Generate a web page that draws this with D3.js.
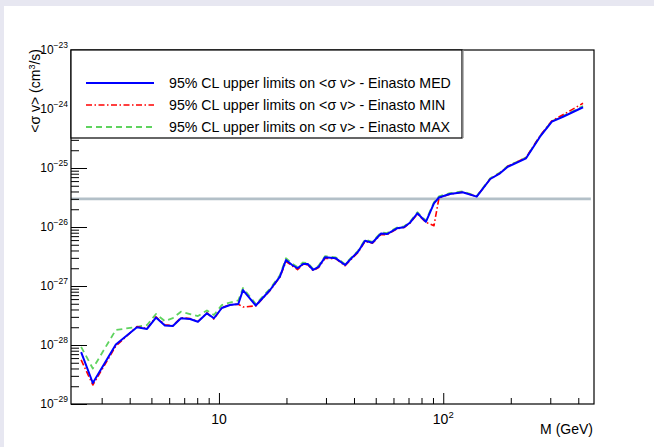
<!DOCTYPE html>
<html><head><meta charset="utf-8">
<script src="https://cdn.jsdelivr.net/npm/d3@7"></script>
<style>html,body{margin:0;padding:0;background:#fff;} svg{display:block;font-family:"Liberation Sans",Arial,sans-serif;}</style>
</head><body>
<svg id="c" width="654" height="447"></svg>
<script>
// ---------- data ----------
const masses = [2.43, 2.74, 3.47, 4.31, 4.78, 5.24, 5.74, 6.23, 6.77, 7.43, 8.06, 8.84, 9.50, 10.3, 11.2, 12.2, 12.8, 14.6, 16.9, 18.7,
  19.9, 21.2, 22.4, 23.7, 24.9, 26.3, 27.8, 29.7, 33.2, 36.5, 39.6, 41.7, 44.8, 48.3, 52.8, 56.1, 62.2, 66.8, 71.0, 76.7,
  83.7, 90.9, 95.7, 107, 122, 141, 162, 179, 194, 234, 270, 305, 342, 420];
const einastoMED = [7.6e-29, 2.27e-29, 1.02e-28, 2.0e-28, 1.87e-28, 2.92e-28, 2.14e-28, 2.10e-28, 2.84e-28, 2.76e-28, 2.48e-28, 3.44e-28, 2.84e-28, 4.24e-28, 4.76e-28, 4.95e-28, 8.55e-28, 4.67e-28, 8.55e-28, 1.44e-27,
  2.76e-27, 2.27e-27, 2.0e-27, 2.36e-27, 2.36e-27, 1.87e-27, 2.10e-27, 3.06e-27, 2.94e-27, 2.27e-27, 3.14e-27, 3.81e-27, 5.86e-27, 5.42e-27, 7.76e-27, 7.6e-27, 9.5e-27, 9.9e-27, 1.18e-26, 1.71e-26,
  1.22e-26, 2.52e-26, 3.16e-26, 3.62e-26, 3.87e-26, 3.27e-26, 6.51e-26, 8.13e-26, 1.05e-25, 1.46e-25, 3.39e-25, 6.09e-25, 7.40e-25, 1.07e-24];
const einastoMIN = [5.6e-29, 2.1e-29, 9.6e-29, 2.05e-28, 1.9e-28, 3.0e-28, 2.2e-28, 2.12e-28, 2.9e-28, 2.8e-28, 2.5e-28, 3.5e-28, 2.75e-28, 4.3e-28, 4.8e-28, 4.9e-28, 4.4e-28, 4.6e-28, 8.4e-28, 1.42e-27,
  2.6e-27, 2.2e-27, 1.9e-27, 2.3e-27, 2.3e-27, 1.82e-27, 2.05e-27, 2.95e-27, 2.9e-27, 2.2e-27, 3.05e-27, 3.7e-27, 5.7e-27, 5.3e-27, 7.5e-27, 7.4e-27, 9.3e-27, 9.8e-27, 1.16e-26, 1.65e-26,
  1.2e-26, 1.05e-26, 3.1e-26, 3.6e-26, 3.9e-26, 3.3e-26, 6.5e-26, 8.2e-26, 1.07e-25, 1.5e-25, 3.5e-25, 6.3e-25, 8.0e-25, 1.25e-24];
const einastoMAX = [9.3e-29, 4.0e-29, 1.8e-28, 2.02e-28, 2.18e-28, 3.35e-28, 2.55e-28, 2.85e-28, 3.67e-28, 3.35e-28, 3.1e-28, 3.85e-28, 3.22e-28, 4.76e-28, 5.25e-28, 5.68e-28, 9.25e-28, 4.95e-28, 9.0e-28, 1.52e-27,
  2.95e-27, 2.4e-27, 2.1e-27, 2.5e-27, 2.45e-27, 1.95e-27, 2.2e-27, 3.2e-27, 3.05e-27, 2.35e-27, 3.25e-27, 3.95e-27, 6.1e-27, 5.6e-27, 8.1e-27, 7.9e-27, 9.8e-27, 1.02e-26, 1.22e-26, 1.78e-26,
  1.28e-26, 2.62e-26, 3.3e-26, 3.75e-26, 4.0e-26, 3.35e-26, 6.7e-26, 8.4e-26, 1.08e-25, 1.5e-25, 3.45e-25, 6.2e-25, 7.6e-25, 1.12e-24];
const seriesNames = ["95% CL upper limits on <σ v> - Einasto MED", "95% CL upper limits on <σ v> - Einasto MIN", "95% CL upper limits on <σ v> - Einasto MAX"];
const relicValue = 3e-26;
const relicRange = [2.19, 455];
const xMajorTicks = [10, 100];
const xMajorLabels = [["10", ""], ["10", "2"]];
const xMinorTicks = [3, 4, 5, 6, 7, 8, 9, 20, 30, 40, 50, 60, 70, 80, 90, 200, 300, 400];
const yMajorTicks = [1e-29, 1e-28, 1e-27, 1e-26, 1e-25, 1e-24, 1e-23];
const yMajorLabels = ["\u221229", "\u221228", "\u221227", "\u221226", "\u221225", "\u221224", "\u221223"];
const xTitle = "M (GeV)";

// ---------- layout ----------
const svg = d3.select("#c");
const L = 71, R = 594, T = 50, B = 404;
const x = d3.scaleLog().domain([2.19, 470]).range([L, R]);
const y = d3.scaleLog().domain([1e-29, 1e-23]).range([B, T]);
const yMinorTicks = [];
for (let e = -29; e < -23; e++) for (let k = 2; k <= 9; k++) yMinorTicks.push(k * Math.pow(10, e));

// page background (lavender edge)
svg.append("rect").attr("width", 654).attr("height", 447).attr("fill", "#e7e7f1");
svg.append("rect").attr("x", 4).attr("y", 6).attr("width", 650).attr("height", 441).attr("fill", "#fff");

// clip
svg.append("clipPath").attr("id", "clip").append("rect").attr("x", L).attr("y", T).attr("width", R - L).attr("height", B - T);
const plot = svg.append("g").attr("clip-path", "url(#clip)");

// relic line
plot.append("line").attr("x1", x(relicRange[0])).attr("x2", x(relicRange[1]))
  .attr("y1", y(relicValue)).attr("y2", y(relicValue))
  .attr("stroke", "#b3c0c8").attr("stroke-width", 2.8);

const line = d3.line().x(d => x(d[0])).y(d => y(d[1]));
const styles = [
  { data: einastoMED, color: "#0000ff", width: 2, dash: null },
  { data: einastoMIN, color: "#ff0000", width: 1.6, dash: "6,2.5,1.5,2.5" },
  { data: einastoMAX, color: "#5fd35f", width: 1.8, dash: "6,4" }
];
[2, 1, 0].forEach(i => {
  const s = styles[i];
  plot.append("path").datum(masses.map((m, j) => [m, s.data[j]]))
    .attr("d", line).attr("fill", "none").attr("stroke", s.color)
    .attr("stroke-width", s.width).attr("stroke-dasharray", s.dash)
    .attr("stroke-linejoin", "round");
});

// axes ticks
function noLab() { return ""; }
svg.append("g").attr("transform", `translate(0,${B})`)
  .call(d3.axisBottom(x).tickValues(xMajorTicks).tickSize(-11).tickFormat(noLab))
  .call(g => g.select(".domain").remove());
svg.append("g").attr("transform", `translate(0,${B})`)
  .call(d3.axisBottom(x).tickValues(xMinorTicks).tickSize(-6).tickFormat(noLab))
  .call(g => g.select(".domain").remove());
svg.append("g").attr("transform", `translate(${L},0)`)
  .call(d3.axisLeft(y).tickValues(yMajorTicks).tickSize(-16).tickFormat(noLab))
  .call(g => g.select(".domain").remove());
svg.append("g").attr("transform", `translate(${L},0)`)
  .call(d3.axisLeft(y).tickValues(yMinorTicks).tickSize(-8).tickFormat(noLab))
  .call(g => g.select(".domain").remove());
svg.selectAll(".tick line").attr("stroke", "#000").attr("stroke-width", 1);

// frame
svg.append("rect").attr("x", L).attr("y", T).attr("width", R - L).attr("height", B - T)
  .attr("fill", "none").attr("stroke", "#000").attr("stroke-width", 1.2);

// x labels
xMajorTicks.forEach((v, i) => {
  const t = svg.append("text").attr("x", x(v)).attr("y", 424).attr("text-anchor", "middle")
    .attr("font-size", 14).attr("fill", "#000");
  t.append("tspan").text(xMajorLabels[i][0]);
  if (xMajorLabels[i][1]) t.append("tspan").attr("dy", -6).attr("font-size", 9.5).text(xMajorLabels[i][1]);
});
svg.append("text").attr("x", 593).attr("y", 434).attr("text-anchor", "end").attr("font-size", 14).text(xTitle);

// y labels
yMajorTicks.forEach((v, i) => {
  const t = svg.append("text").attr("x", 68).attr("y", y(v) + 4.3).attr("text-anchor", "end")
    .attr("font-size", 12).attr("fill", "#000");
  t.append("tspan").text("10");
  t.append("tspan").attr("dy", -6).attr("font-size", 8.5).text(yMajorLabels[i]);
});
const yt = svg.append("text").attr("transform", "translate(40,49) rotate(-90)").attr("text-anchor", "end").attr("font-size", 14);
yt.append("tspan").text("<σ v> (cm");
yt.append("tspan").attr("dy", -5).attr("font-size", 9).text("3");
yt.append("tspan").attr("dy", 5).text("/s)");

// legend
const lg = svg.append("g");
lg.append("rect").attr("x", L).attr("y", T).attr("width", 462 - L).attr("height", 138 - T)
  .attr("fill", "#fff").attr("stroke", "#000").attr("stroke-width", 1.2);
lg.append("line").attr("x1", 463).attr("x2", 463).attr("y1", T).attr("y2", 138).attr("stroke", "#888").attr("stroke-width", 1.2);
const legY = [83, 105, 127];
styles.forEach((s, i) => {
  lg.append("line").attr("x1", 86).attr("x2", 154).attr("y1", legY[i]).attr("y2", legY[i])
    .attr("stroke", s.color).attr("stroke-width", s.width).attr("stroke-dasharray", s.dash);
  lg.append("text").attr("x", 169).attr("y", legY[i] + 5).attr("font-size", 14.2).text(seriesNames[i]);
});
</script>
</body></html>
